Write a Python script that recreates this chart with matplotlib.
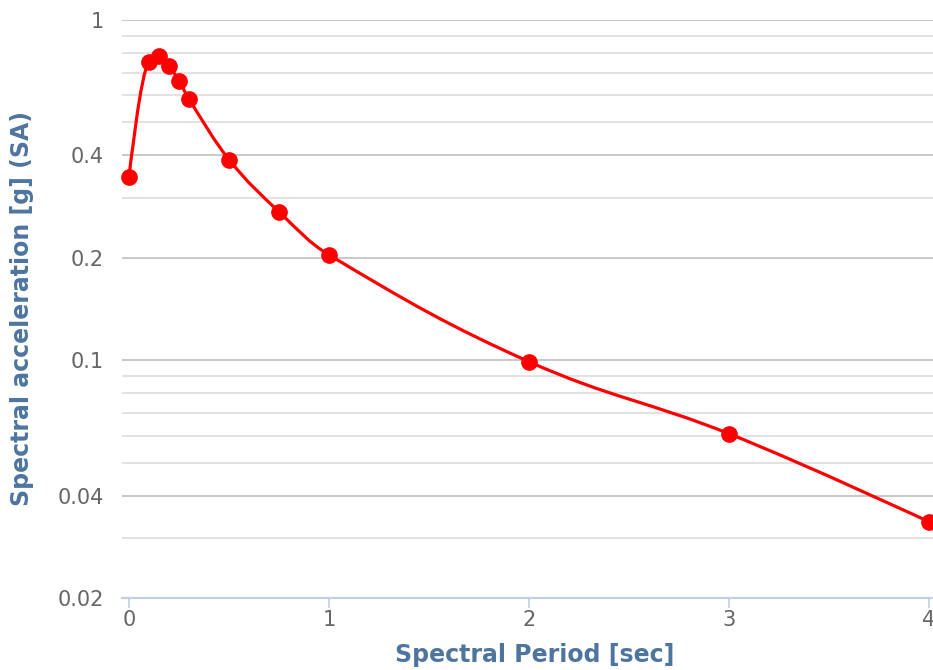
import numpy as np
import matplotlib
matplotlib.use("Agg")
import matplotlib.pyplot as plt
from matplotlib.path import Path
from matplotlib.patches import PathPatch
from matplotlib.ticker import FixedLocator, FuncFormatter

# Response spectrum: spectral period [sec] vs spectral acceleration [g]
period = [0, 0.1, 0.15, 0.2, 0.25, 0.3, 0.5, 0.75, 1, 2, 3, 4]
sa = [0.345, 0.751, 0.784, 0.732, 0.663, 0.585, 0.389, 0.273, 0.204, 0.099, 0.0608, 0.0335]

y_major = [0.02, 0.04, 0.1, 0.2, 0.4, 1]
y_minor = [0.03, 0.05, 0.06, 0.07, 0.08, 0.09, 0.3, 0.5, 0.6, 0.7, 0.8, 0.9]
x_ticks = [0, 1, 2, 3, 4]

TITLE_COLOR = "#4d759e"
LABEL_COLOR = "#666666"
AXIS_COLOR = "#c0d0e0"


def spline_path(xs, ys, smoothing=1.5):
    """Cubic bezier through the points (x linear, y on log scale)."""
    x = np.asarray(xs, float)
    ly = np.log10(np.asarray(ys, float))
    n = len(x)
    denom = smoothing + 1
    left = [(x[i], ly[i]) for i in range(n)]
    right = [(x[i], ly[i]) for i in range(n)]
    for i in range(1, n - 1):
        lcx = (smoothing * x[i] + x[i - 1]) / denom
        lcy = (smoothing * ly[i] + ly[i - 1]) / denom
        rcx = (smoothing * x[i] + x[i + 1]) / denom
        rcy = (smoothing * ly[i] + ly[i + 1]) / denom
        corr = (rcy - lcy) * (rcx - x[i]) / (rcx - lcx) + ly[i] - rcy
        lcy += corr
        rcy += corr
        # keep the handles from overshooting the neighbours
        if lcy > ly[i - 1] and lcy > ly[i]:
            lcy = max(ly[i - 1], ly[i])
            rcy = 2 * ly[i] - lcy
        elif lcy < ly[i - 1] and lcy < ly[i]:
            lcy = min(ly[i - 1], ly[i])
            rcy = 2 * ly[i] - lcy
        if rcy > ly[i + 1] and rcy > ly[i]:
            rcy = max(ly[i + 1], ly[i])
            lcy = 2 * ly[i] - rcy
        elif rcy < ly[i + 1] and rcy < ly[i]:
            rcy = min(ly[i + 1], ly[i])
            lcy = 2 * ly[i] - rcy
        left[i] = (lcx, lcy)
        right[i] = (rcx, rcy)

    verts = [(x[0], ly[0])]
    codes = [Path.MOVETO]
    for i in range(1, n):
        verts += [right[i - 1], left[i], (x[i], ly[i])]
        codes += [Path.CURVE4] * 3
    verts = [(vx, 10 ** vy) for vx, vy in verts]
    return Path(verts, codes)


fig = plt.figure(figsize=(9.33, 6.7), dpi=100)
ax = fig.add_axes([122 / 933, 72 / 670, 1 - 122 / 933, 578 / 670])

ax.set_yscale("log")
ax.set_ylim(0.02, 1)
ax.set_xlim(-0.035, 4.02)

ax.yaxis.set_major_locator(FixedLocator(y_major))
ax.yaxis.set_minor_locator(FixedLocator(y_minor))
ax.yaxis.set_major_formatter(FuncFormatter(lambda v, _: f"{v:g}"))
ax.yaxis.set_minor_formatter(FuncFormatter(lambda v, _: ""))
ax.set_xticks(x_ticks)

ax.grid(True, axis="y", which="major", color="#c8c8c8", lw=1.4)
ax.grid(True, axis="y", which="minor", color="#e2e2e2", lw=1.4)
ax.set_axisbelow(True)

for side in ("top", "right", "left"):
    ax.spines[side].set_visible(False)
ax.spines["bottom"].set_color(AXIS_COLOR)
ax.spines["bottom"].set_linewidth(1.5)
ax.spines["bottom"].set_zorder(3)

ax.tick_params(axis="y", which="both", length=0, pad=13, labelsize=15, labelcolor=LABEL_COLOR)
ax.tick_params(axis="x", length=7.5, width=1.2, color=AXIS_COLOR, pad=1,
               labelsize=15, labelcolor=LABEL_COLOR)

patch = PathPatch(spline_path(period, sa), facecolor="none", edgecolor="#ff0000",
                  lw=2.3, zorder=4, clip_on=False)
ax.add_patch(patch)
ax.plot(period, sa, ls="none", marker="o", ms=11, color="#ff0000", zorder=5, clip_on=False)

fig.text(535 / 933, 1 - 655 / 670, "Spectral Period [sec]", ha="center", va="center",
         fontsize=17, fontweight="bold", color=TITLE_COLOR)
fig.text(22 / 933, 1 - 309 / 670, "Spectral acceleration [g] (SA)", ha="center", va="center",
         rotation=90, fontsize=17, fontweight="bold", color=TITLE_COLOR)

fig.savefig("out.png", dpi=100)
